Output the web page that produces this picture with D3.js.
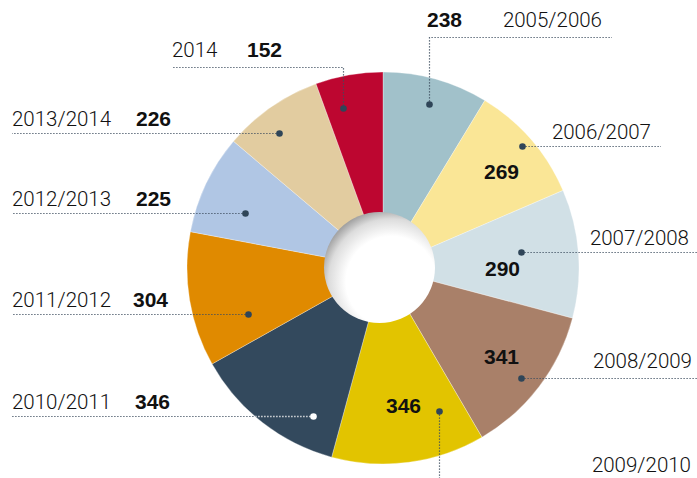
<!DOCTYPE html>
<html>
<head>
<meta charset="utf-8">
<script src="https://cdn.jsdelivr.net/npm/d3@7"></script>
<style>
  body { margin: 0; background: #fff; }
  .name { font-family: Roboto, "Liberation Sans", sans-serif; font-weight: 300; font-size: 20.5px; fill: #111; }
  .val  { font-family: "Liberation Sans", Arial, sans-serif; font-weight: bold; font-size: 21px; fill: #111; }
</style>
</head>
<body>
<svg id="canvas" width="697" height="478"></svg>
<script>
// data
var seasons = ["2005/2006","2006/2007","2007/2008","2008/2009","2009/2010","2010/2011","2011/2012","2012/2013","2013/2014","2014"];
var counts  = [238, 269, 290, 341, 346, 346, 304, 225, 226, 152];
var colors  = ["#a1c1ca","#fae696","#d1e0e6","#a98069","#e2c400","#33495d","#e08a00","#b0c6e4","#e2cca0","#bd0630"];

// ************************************************************************************** //
// Layout of the callouts (dot placed inside slice by fraction of angle / radius)

var callouts = [
  { t: 0.50,  rf: 0.869, kind: "up",    elbowY: 37, endX: 612, name: [602, 27, "end"],   val: [427, 27, "start"] },
  { t: 0.493, rf: 0.943, kind: "right", endX: 661,             name: [651, 139, "end"],  val: [-21, 32, "in"] },
  { t: 0.438, rf: 0.709, kind: "right", endX: 697,             name: [689, 245, "end"],  val: [-19, 23, "in"] },
  { t: 0.529, rf: 0.900, kind: "right", endX: 697,             name: [692, 368, "end"],  val: [-20, -15, "in"] },
  { t: 0.196, rf: 0.784, kind: "down",  endY: 478,             name: [691, 472, "end"],  val: [-36, 1, "in"] },
  { t: 0.222, rf: 0.835, kind: "left",  endX: 12, dark: true,  name: [12, -8, "start"],  val: [135, -8, "start"] },
  { t: 0.262, rf: 0.728, kind: "left",  endX: 12,              name: [12, -8, "start"],  val: [133, -8, "start"] },
  { t: 0.373, rf: 0.758, kind: "left",  endX: 12,              name: [12, -8, "start"],  val: [136, -8, "start"] },
  { t: 0.407, rf: 0.869, kind: "left",  endX: 12,              name: [12, -8, "start"],  val: [136, -8, "start"] },
  { t: 0.298, rf: 0.841, kind: "upleft", elbowY: 67, endX: 172, name: [172, 57, "start"], val: [247, 57, "start"] }
];

var cx = 383, cy = 268, R = 196;

var svg = d3.select('#canvas');
var defs = svg.append('defs');

// shaded hole
var grad = defs.append('radialGradient').attr('id', 'hole').attr('cx', '0.6').attr('cy', '0.62').attr('r', '0.66')
  .attr('fx', '0.62').attr('fy', '0.64');
grad.append('stop').attr('offset', '0').attr('stop-color', '#ffffff');
grad.append('stop').attr('offset', '0.62').attr('stop-color', '#ffffff');
grad.append('stop').attr('offset', '0.85').attr('stop-color', '#dcdcdc');
grad.append('stop').attr('offset', '1').attr('stop-color', '#9c9c9c');

var pie = d3.pie().sort(null).value(function(d){ return d; }).startAngle(0).endAngle(2*Math.PI);
var arcs = pie(counts);
var arc = d3.arc().innerRadius(0).outerRadius(R);

var origin = svg.append('g').attr('transform', 'translate(' + cx + ',' + cy + ')');

// slices
origin.selectAll('path.slice').data(arcs).enter().append('path')
  .attr('class', 'slice')
  .attr('d', arc)
  .attr('fill', function(d, i){ return colors[i]; })
  .attr('stroke', '#fff').attr('stroke-width', 0.5).attr('stroke-opacity', 0.6);

// clip paths so leader lines can turn white over dark slices
arcs.forEach(function(d, i){
  defs.append('clipPath').attr('id', 'clip' + i)
    .append('path').attr('d', arc(d)).attr('transform', 'translate(' + cx + ',' + cy + ')');
});

svg.append('circle').attr('cx', cx - 3.5).attr('cy', cy - 0.5).attr('r', 55.5).attr('fill', 'url(#hole)');

// callouts
var lineColor = '#3d4d5e';
callouts.forEach(function(c, i){
  var s = arcs[i];
  var a = s.startAngle + c.t * (s.endAngle - s.startAngle);
  var px = cx + c.rf*R*Math.sin(a), py = cy - c.rf*R*Math.cos(a);
  px = Math.round(px) + 0.5; py = Math.round(py) + 0.5;

  var pts;
  if (c.kind == "left" || c.kind == "right") pts = [[px, py], [c.endX, py]];
  else if (c.kind == "down") pts = [[px, py], [px, c.endY]];
  else pts = [[px, py], [px, c.elbowY + 0.5], [c.endX, c.elbowY + 0.5]];

  var line = d3.line();
  svg.append('path').attr('d', line(pts)).attr('fill', 'none')
    .attr('stroke', lineColor).attr('stroke-width', 1.2).attr('stroke-dasharray', '1.2,1.8');
  if (c.dark) {
    svg.append('path').attr('d', line(pts)).attr('fill', 'none').attr('clip-path', 'url(#clip' + i + ')')
      .attr('stroke', '#fff').attr('stroke-width', 1.4).attr('stroke-dasharray', '1.2,1.8');
  }
  svg.append('circle').attr('cx', px).attr('cy', py).attr('r', 3.3)
    .attr('fill', c.dark ? '#fff' : '#2f4558');

  // season name
  var ny = (c.kind == "left") ? py + c.name[1] : c.name[1];
  svg.append('text').attr('class', 'name').attr('x', c.name[0]).attr('y', ny)
    .attr('text-anchor', c.name[2]).text(seasons[i]);

  // value
  var vx, vy, anchor;
  if (c.val[2] == "in") { vx = px + c.val[0]; vy = py + c.val[1]; anchor = 'middle'; }
  else { vx = c.val[0]; vy = (c.kind == "left") ? py + c.val[1] : c.val[1]; anchor = c.val[2]; }
  svg.append('text').attr('class', 'val').attr('x', vx).attr('y', vy)
    .attr('text-anchor', anchor).text(counts[i]);
});
</script>
</body>
</html>
